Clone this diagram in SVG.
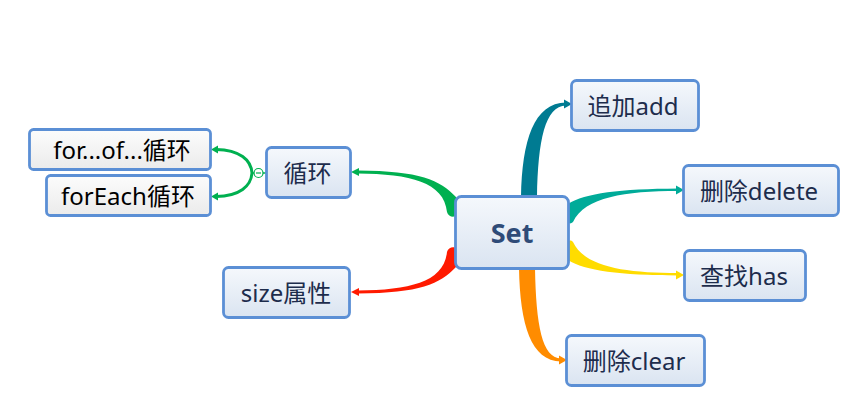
<svg xmlns="http://www.w3.org/2000/svg" width="863" height="415" viewBox="0 0 863 415">
<defs>
<linearGradient id="gMain" x1="0" y1="0" x2="0" y2="1">
<stop offset="0" stop-color="#f5f8fc"/>
<stop offset="1" stop-color="#dae4f1"/>
</linearGradient>
<linearGradient id="gSub" x1="0" y1="0" x2="0" y2="1">
<stop offset="0" stop-color="#fcfcfc"/>
<stop offset="1" stop-color="#ebebeb"/>
</linearGradient>
<style>
.box{fill:url(#gMain);stroke:#5b8fd5;stroke-width:2.8}
.sub{fill:url(#gSub);stroke:#5b8fd5;stroke-width:2.8}
.t{font-family:"Noto Sans","Noto Sans CJK SC",sans-serif;font-size:24px;fill:#1d2c4c;text-anchor:middle;dominant-baseline:central}
.ts{font-family:"Noto Sans","Noto Sans CJK SC",sans-serif;font-size:24px;fill:#000;text-anchor:middle;dominant-baseline:central}
.tc{font-family:"Noto Sans","Noto Sans CJK SC",sans-serif;font-size:27px;font-weight:bold;fill:#2f4b78;text-anchor:middle;dominant-baseline:central}
</style>
</defs>
<rect width="863" height="415" fill="#ffffff"/>
<g id="connectors">
<path d="M521 197 C522 140 534 103 566 102.5 L566 105.5 C545 106 538 140 537 197 Z" fill="#007b92"/>
<polygon points="564,99.5 572,104 564,108.5" fill="#007b92"/>
<path d="M568 204 C585 193 620 189 678 188.5 L678 191 C625 191 585 197 573 222 C571 224 568 224 568 221 Z" fill="#00ab99"/>
<polygon points="676,185.5 684,190 676,194.5" fill="#00ab99"/>
<path d="M568 260 C585 271 620 275 678 275.5 L678 273 C625 273 585 267 573 242 C571 240 568 240 568 243 Z" fill="#ffdc00"/>
<polygon points="676,270.5 684,275 676,279.5" fill="#ffdc00"/>
<path d="M519 268 C520 325 531 361 561 361.5 L561 358.5 C542 358 536 325 535 268 Z" fill="#ff8c00"/>
<polygon points="559,355.5 567,360 559,364.5" fill="#ff8c00"/>
<path d="M456 197 C440 180 420 171 358 170.5 L358 173.5 C410 174 444 182 447 212 C448 217 455 218 456 215 Z" fill="#00b050"/>
<polygon points="359,168 351,172 359,176" fill="#00b050"/>
<path d="M456 267 C440 284 420 293 358 293.5 L358 290.5 C410 290 444 282 447 252 C448 247 455 246 456 249 Z" fill="#ff1a00"/>
<polygon points="359,288 351,292 359,296" fill="#ff1a00"/>
<path d="M216 149.5 C240 150 251 160 252 173 C251 186 240 196 216 196.5" fill="none" stroke="#00b050" stroke-width="3"/>
<polygon points="218,145.5 211,149.5 218,153.5" fill="#00b050"/>
<polygon points="218,192.5 211,196.5 218,200.5" fill="#00b050"/>
<line x1="252" y1="173" x2="266" y2="173" stroke="#00b050" stroke-width="1.5"/>
<circle cx="258.5" cy="173" r="4.5" fill="#ffffff" stroke="#00b050" stroke-width="1.2"/>
<line x1="256" y1="173" x2="261" y2="173" stroke="#00b050" stroke-width="1.2"/>
</g>
<g id="node-set">
<rect class="box" x="455.5" y="196.5" width="113" height="72" rx="6"/>
<text class="tc" x="512" y="232">Set</text>
</g>
<g id="node-add">
<rect class="box" x="571.5" y="80.5" width="127" height="50" rx="5"/>
<text class="t" x="633" y="105">追加add</text>
</g>
<g id="node-delete">
<rect class="box" x="683.5" y="165.5" width="155" height="50" rx="5"/>
<text class="t" x="759" y="190">删除delete</text>
</g>
<g id="node-has">
<rect class="box" x="684.5" y="250.5" width="121" height="50" rx="5"/>
<text class="t" x="744" y="275">查找has</text>
</g>
<g id="node-clear">
<rect class="box" x="566.5" y="335.5" width="138" height="50" rx="5"/>
<text class="t" x="634" y="360">删除clear</text>
</g>
<g id="node-size">
<rect class="box" x="223.5" y="267.5" width="126" height="50" rx="5"/>
<text class="t" x="286" y="292">size属性</text>
</g>
<g id="node-loop">
<rect class="box" x="266.5" y="147.5" width="84" height="50" rx="5"/>
<text class="t" x="307.5" y="172">循环</text>
</g>
<g id="node-forof">
<rect class="sub" x="29.5" y="129.5" width="181" height="40" rx="4"/>
<text class="ts" x="122" y="149">for...of...循环</text>
</g>
<g id="node-foreach">
<rect class="sub" x="46.5" y="175.5" width="164" height="40" rx="4"/>
<text class="ts" x="128" y="195">forEach循环</text>
</g>
</svg>
